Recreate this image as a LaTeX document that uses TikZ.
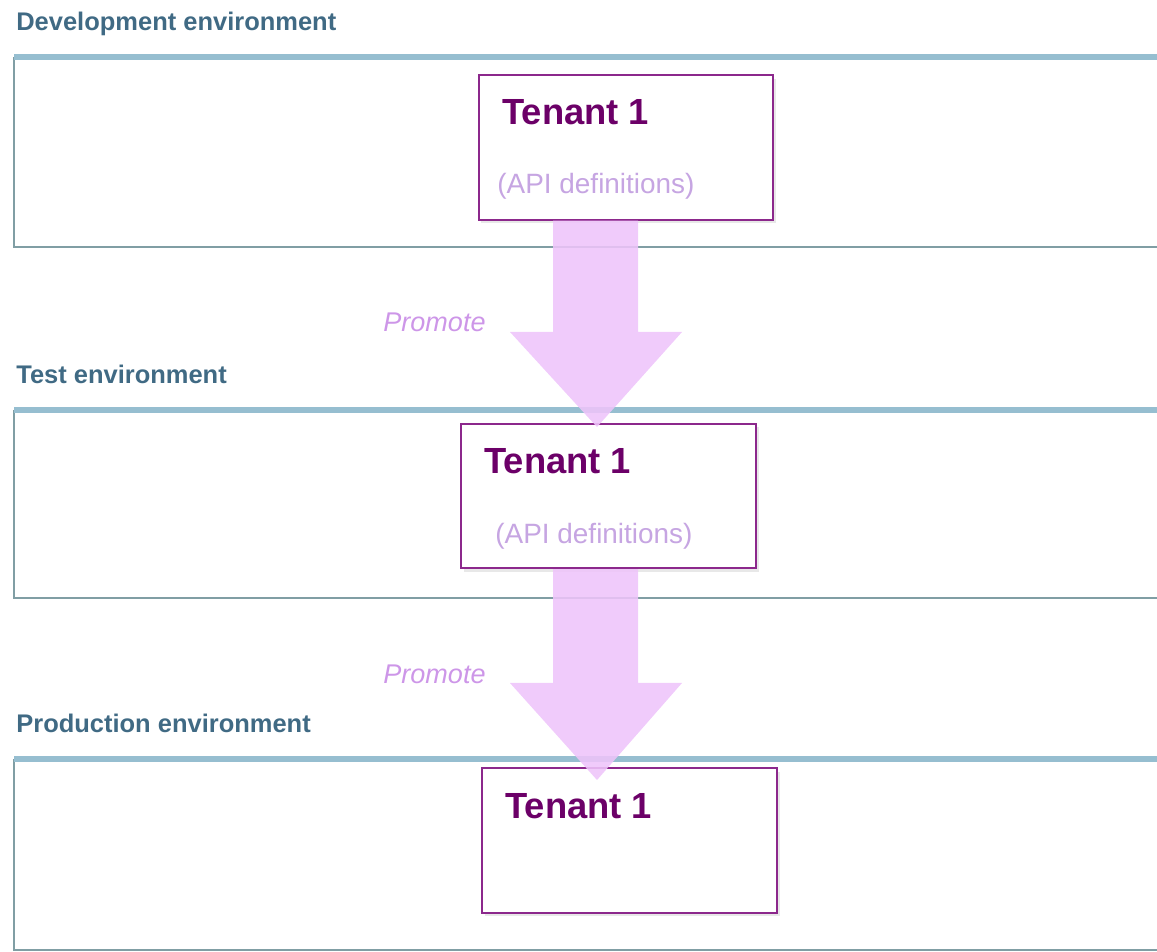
\documentclass[tikz,border=0pt]{standalone}
\usepackage{fontspec}
\setmainfont{Liberation Sans}
\usetikzlibrary{shadows}
\definecolor{tenantpurple}{RGB}{108,0,104}
\definecolor{tenantline}{RGB}{140,40,140}
\definecolor{promofill}{RGB}{238,196,250}
\definecolor{promotext}{RGB}{205,150,232}
\definecolor{apitext}{RGB}{198,165,226}
\definecolor{envtext}{RGB}{64,106,132}
\definecolor{envtop}{RGB}{150,190,208}
\definecolor{envline}{RGB}{128,158,164}
\begin{document}
\begin{tikzpicture}[x=0.02cm, y=-0.02cm,
    tenant/.style={draw=tenantline, line width=1.1pt, fill=white, minimum width=167.8pt, minimum height=82.2pt,
      drop shadow={shadow xshift=1.5pt, shadow yshift=-2pt, opacity=0.18}},
    tenantname/.style={anchor=base west, inner sep=0pt, text=tenantpurple, font=\fontsize{20.7}{24}\selectfont\bfseries},
    apidef/.style={anchor=base west, inner sep=0pt, text=apitext, font=\fontsize{15.9}{19}\selectfont},
    promolabel/.style={anchor=base west, inner sep=0pt, text=promotext, font=\fontsize{15.4}{18}\selectfont\itshape},
    envlabel/.style={anchor=base west, inner sep=0pt, text=envtext, font=\fontsize{14.5}{17}\selectfont\bfseries},
    promo/.style={fill=promofill, fill opacity=0.88}]
  \useasboundingbox (0,0) rectangle (1157,952);
  % environments
  \foreach \name/\label/\top/\bot in {dev/Development environment/57/247,
      test/Test environment/410/598, prod/Production environment/759/950}
  {
    \node [envlabel] (\name lbl) at (16,\top-26) {\label};
    \draw [envline, line width=1.4pt] (14,\top) -- (14,\bot) -- (1157,\bot);
    \draw [envtop, line width=3pt] (14,\top) -- (1157,\top);
  }
  % tenants
  \node [tenant] (t1) at (626,147.5) {};
  \node [tenant] (t2) at (608.5,496) {};
  \node [tenant] (t3) at (629.5,840.5) {};
  \node [tenantname] (t1name) at (502,125) {Tenant 1};
  \node [tenantname] (t2name) at (484,474) {Tenant 1};
  \node [tenantname] (t3name) at (505,819) {Tenant 1};
  \node [apidef] (t1api) at (497,194) {(API definitions)};
  \node [apidef] (t2api) at (495,544) {(API definitions)};
  % promote arrows
  \coordinate (tip1) at (597,427);
  \coordinate (tip2) at (597,780);
  \fill [promo] (553,0 |- t1.south) -- (638,0 |- t1.south) -- (638,332) -- (682,332)
    -- (tip1) -- (510,332) -- (553,332) -- cycle;
  \fill [promo] (553,0 |- t2.south) -- (638,0 |- t2.south) -- (638,683) -- (682,683)
    -- (tip2) -- (510,683) -- (553,683) -- cycle;
  \node [promolabel] (prom1) at (383,332) {Promote};
  \node [promolabel] (prom2) at (383,684) {Promote};
\end{tikzpicture}
\end{document}
